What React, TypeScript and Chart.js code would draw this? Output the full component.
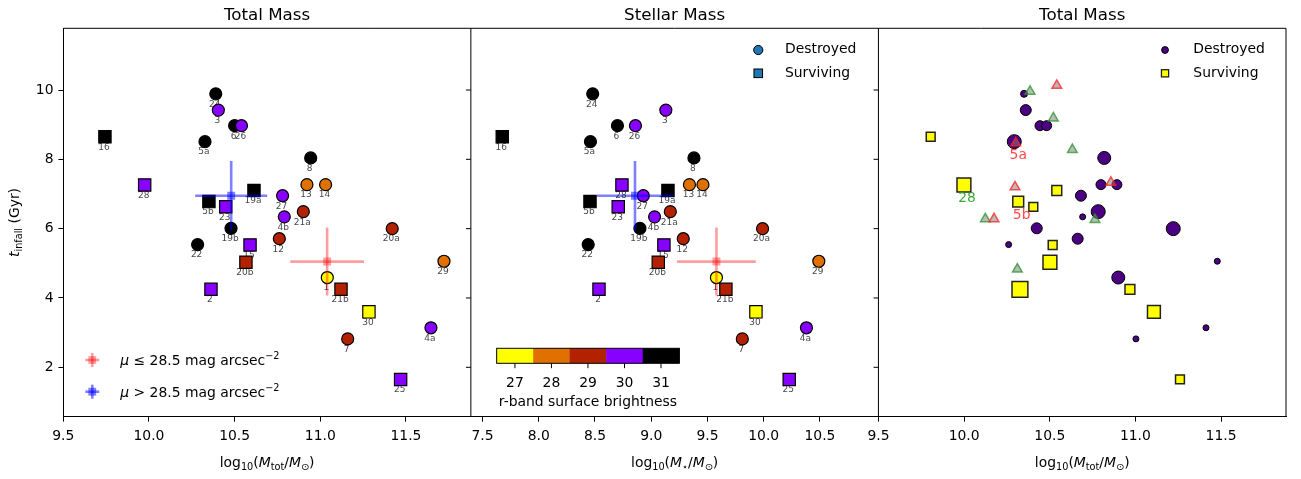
import React, { useEffect, useRef } from 'react';
import { Chart, registerables } from 'chart.js';

Chart.register(...registerables);

const FONT = '"DejaVu Sans", Verdana, sans-serif';

// ---------- ticks ----------
const yTicks = [2, 4, 6, 8, 10];
const xTotalTicks = [9.5, 10.0, 10.5, 11.0, 11.5];
const xStellarTicks = [7.5, 8.0, 8.5, 9.0, 9.5, 10.0, 10.5];

// ---------- colour scale (r-band surface brightness) ----------
const muLevels = [27, 28, 29, 30, 31];
const muColors = ['#ffff00', '#e07000', '#b22200', '#8800ff', '#000000'];

// ---------- destroyed galaxies (circles) ----------
const destroyedIds = ['24', '3', '6', '26', '5a', '8', '13', '14', '27', '21a', '4b', '19b', '12', '20a', '22', '29', '1', '7', '4a'];
const destroyedLogMtot = [10.39, 10.405, 10.50, 10.54, 10.327, 10.944, 10.922, 11.031, 10.78, 10.901, 10.79, 10.479, 10.761, 11.42, 10.284, 11.722, 11.041, 11.16, 11.646];
const destroyedLogMstar = [8.48, 9.13, 8.70, 8.86, 8.46, 9.38, 9.34, 9.46, 8.93, 9.17, 9.03, 8.90, 9.285, 9.99, 8.44, 10.49, 9.58, 9.81, 10.38];
const destroyedTinfall = [9.89, 9.42, 8.97, 8.97, 8.51, 8.04, 7.27, 7.27, 6.95, 6.49, 6.34, 6.01, 5.71, 6.00, 5.54, 5.06, 4.59, 2.82, 3.14];
const destroyedMu = [31, 30, 31, 30, 31, 31, 28, 28, 30, 29, 30, 31, 29, 29, 31, 28, 27, 29, 30];
// right panel (total mass, alternative estimate) and marker-size value
const destroyedLogMtotB = [10.35, 10.36, 10.443, 10.482, 10.293, 10.818, 10.799, 10.892, 10.682, 10.783, 10.692, 10.424, 10.663, 11.221, 10.26, 11.478, 10.90, 11.003, 11.412];
const destroyedSizeB = [4, 6, 5.5, 5.5, 7.5, 7, 5.5, 5.5, 6, 7.5, 3.5, 6, 6, 7.5, 3.5, 3.5, 7, 3.5, 3.5];

// ---------- surviving galaxies (squares) ----------
const survivingIds = ['16', '28', '19a', '5b', '23', '15', '20b', '21b', '2', '30', '25'];
const survivingLogMtot = [9.743, 9.975, 10.613, 10.35, 10.448, 10.59, 10.566, 11.121, 10.362, 11.284, 11.469];
const survivingLogMstar = [7.676, 8.74, 9.149, 8.456, 8.707, 9.113, 9.063, 9.664, 8.536, 9.931, 10.227];
const survivingTinfall = [8.65, 7.26, 7.10, 6.78, 6.63, 5.53, 5.03, 4.25, 4.25, 3.60, 1.65];
const survivingMu = [31, 30, 31, 31, 30, 30, 29, 29, 30, 27, 30];
const survivingLogMtotB = [9.805, 9.999, 10.541, 10.316, 10.404, 10.517, 10.501, 10.968, 10.326, 11.108, 11.26];
const survivingSizeB = [5, 7.5, 5.5, 6, 5, 5, 7.5, 5.5, 8.5, 7, 5];

// ---------- median error bars ----------
const errGroups = ['bright', 'faint'];
const errTotalX = [11.04, 10.48];
const errStellarX = [9.58, 8.856];
const errTinfall = [5.05, 6.95];
const errTotalXerr = [0.215, 0.21];
const errStellarXerr = [0.35, 0.34];
const errTinfallErr = [0.98, 1.0];
const errColors = ['rgba(255,0,0,0.38)', 'rgba(0,0,255,0.5)'];

// ---------- triangles in right panel ----------
const triRedX = [10.541, 10.301, 10.297, 10.175, 10.857];
const triRedY = [10.13, 8.47, 7.2, 6.28, 7.335];
const triGreenX = [10.385, 10.521, 10.632, 10.124, 10.764, 10.311];
const triGreenY = [9.96, 9.19, 8.28, 6.28, 6.26, 4.83];

// ---------- annotations in right panel ----------
const annoText = ['5a', '5b', '28'];
const annoX = [10.316, 10.336, 10.017];
const annoY = [8.125, 6.394, 6.864];
const annoColor = ['rgba(255,40,40,0.85)', 'rgba(255,40,40,0.85)', 'rgba(40,160,40,0.9)'];

const muColor = (m: number) => muColors[muLevels.indexOf(m)];

type Seg = { t: string; it?: boolean; sub?: boolean; sup?: boolean };
function segFont(s: Seg, size: number) {
  const fs = s.sub || s.sup ? size * 0.7 : size;
  return `${s.it ? 'italic ' : ''}${fs}px ${FONT}`;
}
function richWidth(ctx: CanvasRenderingContext2D, segs: Seg[], size: number) {
  let w = 0;
  for (const s of segs) {
    ctx.font = segFont(s, size);
    w += ctx.measureText(s.t).width;
  }
  return w;
}
function drawRich(ctx: CanvasRenderingContext2D, segs: Seg[], x: number, base: number, size: number, align: 'left' | 'center') {
  let cx = align === 'center' ? x - richWidth(ctx, segs, size) / 2 : x;
  ctx.textAlign = 'left';
  ctx.textBaseline = 'alphabetic';
  for (const s of segs) {
    ctx.font = segFont(s, size);
    const dy = s.sub ? size * 0.22 : s.sup ? -size * 0.42 : 0;
    ctx.fillText(s.t, cx, base + dy);
    cx += ctx.measureText(s.t).width;
  }
}

const xLabelTotal: Seg[] = [{ t: 'log' }, { t: '10', sub: true }, { t: '(' }, { t: 'M', it: true }, { t: 'tot', sub: true }, { t: '/' }, { t: 'M', it: true }, { t: '⊙', sub: true }, { t: ')' }];
const xLabelStellar: Seg[] = [{ t: 'log' }, { t: '10', sub: true }, { t: '(' }, { t: 'M', it: true }, { t: '⋆', sub: true }, { t: '/' }, { t: 'M', it: true }, { t: '⊙', sub: true }, { t: ')' }];
const yLabel: Seg[] = [{ t: 't', it: true }, { t: 'infall', sub: true }, { t: ' (Gyr)' }];
const legendMu: Seg[][] = [
  [{ t: 'μ', it: true }, { t: ' ≤ 28.5 mag arcsec' }, { t: '−2', sup: true }],
  [{ t: 'μ', it: true }, { t: ' > 28.5 mag arcsec' }, { t: '−2', sup: true }],
];

export default function App() {
  const ref = useRef<HTMLCanvasElement>(null);

  useEffect(() => {
    const canvas = ref.current;
    if (!canvas) return;

    const axisBase = (ticks: number[], fmt: (v: number) => string, pad: number) => ({
      type: 'linear' as const,
      grid: { drawOnChartArea: false, drawTicks: true, tickLength: 4.9, tickWidth: 1, tickColor: '#000', color: '#000' },
      border: { display: true, color: '#000', width: 1 },
      ticks: {
        color: '#000',
        font: { family: FONT, size: 13.9, lineHeight: 1 },
        padding: pad,
        autoSkip: false,
        maxRotation: 0,
        callback: (v: any) => fmt(Number(v)),
      },
      afterBuildTicks: (s: any) => {
        s.ticks = ticks.map((v) => ({ value: v }));
      },
    });
    const xAxis = (ticks: number[], min: number, max: number) => ({
      ...axisBase(ticks, (v) => v.toFixed(1), 8.2),
      position: 'bottom' as const,
      stack: 'panels',
      stackWeight: 1,
      min,
      max,
      afterFit: (s: any) => {
        s.height = 62.3;
      },
    });

    const datasets: any[] = [];

    // error bars (on top)
    errGroups.forEach((_, i) => {
      [
        { axis: 'x1', cx: errTotalX[i], ex: errTotalXerr[i] },
        { axis: 'x2', cx: errStellarX[i], ex: errStellarXerr[i] },
      ].forEach(({ axis, cx, ex }) => {
        const cy = errTinfall[i];
        const ey = errTinfallErr[i];
        datasets.push({
          xAxisID: axis, yAxisID: 'y', order: 1, showLine: true, pointRadius: 0, borderWidth: 2.6,
          borderColor: errColors[i], borderCapStyle: 'butt',
          data: [{ x: cx - ex, y: cy }, { x: cx + ex, y: cy }],
        });
        datasets.push({
          xAxisID: axis, yAxisID: 'y', order: 1, showLine: true, pointRadius: 0, borderWidth: 2.6,
          borderColor: errColors[i], borderCapStyle: 'butt',
          data: [{ x: cx, y: cy - ey }, { x: cx, y: cy + ey }],
        });
        datasets.push({
          xAxisID: axis, yAxisID: 'y', order: 1, pointStyle: 'rect', pointRadius: 5.6, borderWidth: 0,
          backgroundColor: errColors[i],
          data: [{ x: cx, y: cy }],
        });
      });
    });

    // left & middle panels
    [
      { axis: 'x1', dX: destroyedLogMtot, sX: survivingLogMtot },
      { axis: 'x2', dX: destroyedLogMstar, sX: survivingLogMstar },
    ].forEach(({ axis, dX, sX }) => {
      datasets.push({
        xAxisID: axis, yAxisID: 'y', order: 2, pointStyle: 'rect', pointRadius: 8.7, borderWidth: 1.2,
        borderColor: '#000', backgroundColor: survivingMu.map(muColor),
        pointLabels: survivingIds,
        data: sX.map((x, i) => ({ x, y: survivingTinfall[i] })),
      });
      datasets.push({
        xAxisID: axis, yAxisID: 'y', order: 3, pointStyle: 'circle', pointRadius: 6, borderWidth: 1.2,
        borderColor: '#000', backgroundColor: destroyedMu.map(muColor),
        pointLabels: destroyedIds,
        data: dX.map((x, i) => ({ x, y: destroyedTinfall[i] })),
      });
    });

    // right panel
    datasets.push({
      xAxisID: 'x3', yAxisID: 'y', order: 3, pointStyle: 'triangle', pointRadius: 5.6, borderWidth: 1.5,
      borderColor: 'rgba(255,30,30,0.75)', backgroundColor: 'rgba(130,130,130,0.55)',
      data: triRedX.map((x, i) => ({ x, y: triRedY[i] })),
    });
    datasets.push({
      xAxisID: 'x3', yAxisID: 'y', order: 3, pointStyle: 'triangle', pointRadius: 5.6, borderWidth: 1.5,
      borderColor: 'rgba(40,150,40,0.75)', backgroundColor: 'rgba(130,130,130,0.55)',
      data: triGreenX.map((x, i) => ({ x, y: triGreenY[i] })),
    });
    datasets.push({
      xAxisID: 'x3', yAxisID: 'y', order: 4, pointStyle: 'rect', borderWidth: 1.5,
      pointRadius: survivingSizeB.map((s) => s * 1.414 - 0.8),
      borderColor: '#222', backgroundColor: '#ffff00',
      data: survivingLogMtotB.map((x, i) => ({ x, y: survivingTinfall[i] })),
    });
    datasets.push({
      xAxisID: 'x3', yAxisID: 'y', order: 5, pointStyle: 'circle', borderWidth: 1,
      pointRadius: destroyedSizeB.map((s) => s - 0.5),
      borderColor: '#000', backgroundColor: '#4b0082',
      data: destroyedLogMtotB.map((x, i) => ({ x, y: destroyedTinfall[i] })),
    });

    const decor = {
      id: 'decor',
      beforeDatasetsDraw(chart: any) {
        const ctx: CanvasRenderingContext2D = chart.ctx;
        ctx.save();
        ctx.font = `9px ${FONT}`;
        ctx.fillStyle = 'rgba(40,40,40,0.85)';
        ctx.textAlign = 'center';
        ctx.textBaseline = 'middle';
        chart.data.datasets.forEach((ds: any, i: number) => {
          if (!ds.pointLabels) return;
          const meta = chart.getDatasetMeta(i);
          meta.data.forEach((el: any, j: number) => {
            ctx.fillText(ds.pointLabels[j], el.x - 1, el.y + 10.5);
          });
        });
        ctx.restore();
      },
      afterDraw(chart: any) {
        const ctx: CanvasRenderingContext2D = chart.ctx;
        const { top, bottom, left, right } = chart.chartArea;
        const x1 = chart.scales.x1;
        const x2 = chart.scales.x2;
        const x3 = chart.scales.x3;
        const ys = chart.scales.y;
        ctx.save();
        // frame
        ctx.strokeStyle = '#000';
        ctx.lineWidth = 1;
        const ln = (a: number, b: number, c: number, d: number) => {
          ctx.beginPath();
          ctx.moveTo(a, b);
          ctx.lineTo(c, d);
          ctx.stroke();
        };
        ln(left, top, right, top);
        ln(right, top, right, bottom);
        ln(x2.left, top, x2.left, bottom);
        ln(x3.left, top, x3.left, bottom);
        for (const v of yTicks) {
          const py = ys.getPixelForValue(v);
          ln(x2.left - 4.9, py, x2.left, py);
          ln(x3.left - 4.9, py, x3.left, py);
        }

        // annotations right panel
        ctx.font = `13.9px ${FONT}`;
        ctx.textAlign = 'center';
        ctx.textBaseline = 'middle';
        annoText.forEach((t, i) => {
          ctx.fillStyle = annoColor[i];
          ctx.fillText(t, x3.getPixelForValue(annoX[i]), ys.getPixelForValue(annoY[i]));
        });

        // titles
        ctx.fillStyle = '#000';
        ctx.font = `16.7px ${FONT}`;
        ctx.textAlign = 'center';
        ctx.textBaseline = 'alphabetic';
        ctx.fillText('Total Mass', (x1.left + x1.right) / 2, top - 8.3);
        ctx.fillText('Stellar Mass', (x2.left + x2.right) / 2, top - 8.3);
        ctx.fillText('Total Mass', (x3.left + x3.right) / 2, top - 8.3);

        // axis labels
        drawRich(ctx, xLabelTotal, (x1.left + x1.right) / 2, 467, 13.9, 'center');
        drawRich(ctx, xLabelStellar, (x2.left + x2.right) / 2, 467, 13.9, 'center');
        drawRich(ctx, xLabelTotal, (x3.left + x3.right) / 2, 467, 13.9, 'center');
        ctx.save();
        ctx.translate(18.5, (top + bottom) / 2);
        ctx.rotate(-Math.PI / 2);
        drawRich(ctx, yLabel, 0, 0, 13.9, 'center');
        ctx.restore();

        // left legend (error bar symbols)
        const legY = [360, 391.7];
        legY.forEach((cy, i) => {
          const cx = x1.left + 29;
          ctx.strokeStyle = errColors[i];
          ctx.lineWidth = 2.6;
          ln(cx - 7, cy, cx + 7, cy);
          ln(cx, cy - 7, cx, cy + 7);
          ctx.fillStyle = errColors[i];
          ctx.fillRect(cx - 3.9, cy - 3.9, 7.8, 7.8);
          ctx.fillStyle = '#000';
          drawRich(ctx, legendMu[i], x1.left + 57, cy + 5, 13.9, 'left');
        });

        // middle legend
        ctx.lineWidth = 1;
        ctx.strokeStyle = '#000';
        {
          const mx = x2.left + 287.4;
          ctx.fillStyle = '#1f77b4';
          ctx.beginPath();
          ctx.arc(mx, 50, 4.6, 0, Math.PI * 2);
          ctx.fill();
          ctx.stroke();
          ctx.fillRect(mx - 4.3, 73.3 - 4.3, 8.6, 8.6);
          ctx.strokeRect(mx - 4.3, 73.3 - 4.3, 8.6, 8.6);
          ctx.fillStyle = '#000';
          ctx.font = `13.9px ${FONT}`;
          ctx.textAlign = 'left';
          ctx.textBaseline = 'alphabetic';
          ctx.fillText('Destroyed', x2.left + 314.1, 53.3);
          ctx.fillText('Surviving', x2.left + 314.1, 77.3);
        }
        // right legend
        {
          const mx = x3.left + 286.6;
          ctx.fillStyle = '#4b0082';
          ctx.beginPath();
          ctx.arc(mx, 50, 3.4, 0, Math.PI * 2);
          ctx.fill();
          ctx.stroke();
          ctx.fillStyle = '#ffff00';
          ctx.fillRect(mx - 3.6, 73.3 - 3.6, 7.2, 7.2);
          ctx.lineWidth = 1.3;
          ctx.strokeStyle = '#222';
          ctx.strokeRect(mx - 3.6, 73.3 - 3.6, 7.2, 7.2);
          ctx.fillStyle = '#000';
          ctx.font = `13.9px ${FONT}`;
          ctx.textAlign = 'left';
          ctx.fillText('Destroyed', x3.left + 314.9, 53.3);
          ctx.fillText('Surviving', x3.left + 314.9, 77.3);
        }

        // colorbar
        {
          const cbL = x2.left + 25.8;
          const cbT = 348.3;
          const cbW = 182.6;
          const cbH = 15;
          const seg = cbW / muLevels.length;
          muLevels.forEach((m, i) => {
            ctx.fillStyle = muColors[i];
            ctx.fillRect(cbL + i * seg, cbT, seg + 0.5, cbH);
          });
          ctx.strokeStyle = '#000';
          ctx.lineWidth = 1;
          ctx.strokeRect(cbL, cbT, cbW, cbH);
          ctx.fillStyle = '#000';
          ctx.font = `13.9px ${FONT}`;
          ctx.textAlign = 'center';
          ctx.textBaseline = 'alphabetic';
          muLevels.forEach((m, i) => {
            const tx = cbL + (i + 0.5) * seg;
            ln(tx, cbT + cbH, tx, cbT + cbH + 4.9);
            ctx.fillText(String(m), tx, 386.7);
          });
          ctx.fillText('r-band surface brightness', cbL + cbW / 2, 405.5);
        }
        ctx.restore();
      },
    };

    const chart = new Chart(canvas, {
      type: 'scatter',
      data: { datasets },
      options: {
        animation: false,
        responsive: false,
        devicePixelRatio: 1,
        events: [],
        layout: { autoPadding: false, padding: { left: 0, top: 28.3, right: 15, bottom: 0 } },
        plugins: { legend: { display: false }, tooltip: { enabled: false }, title: { display: false } },
        scales: {
          y: {
            ...axisBase(yTicks, (v) => String(v), 4.9),
            position: 'left',
            min: 0.575,
            max: 11.78,
            afterFit: (s: any) => {
              s.width = 63.3;
            },
          },
          x1: xAxis(xTotalTicks, 9.5, 11.879),
          x2: xAxis(xStellarTicks, 7.397, 11.02),
          x3: xAxis(xTotalTicks, 9.5, 11.879),
        },
      } as any,
      plugins: [decor],
    } as any);

    return () => chart.destroy();
  }, []);

  return (
    <div style={{ position: 'fixed', left: 0, top: 0, width: 1301, height: 479, background: '#fff' }}>
      <canvas ref={ref} width={1301} height={479} style={{ display: 'block', width: 1301, height: 479 }} />
    </div>
  );
}
